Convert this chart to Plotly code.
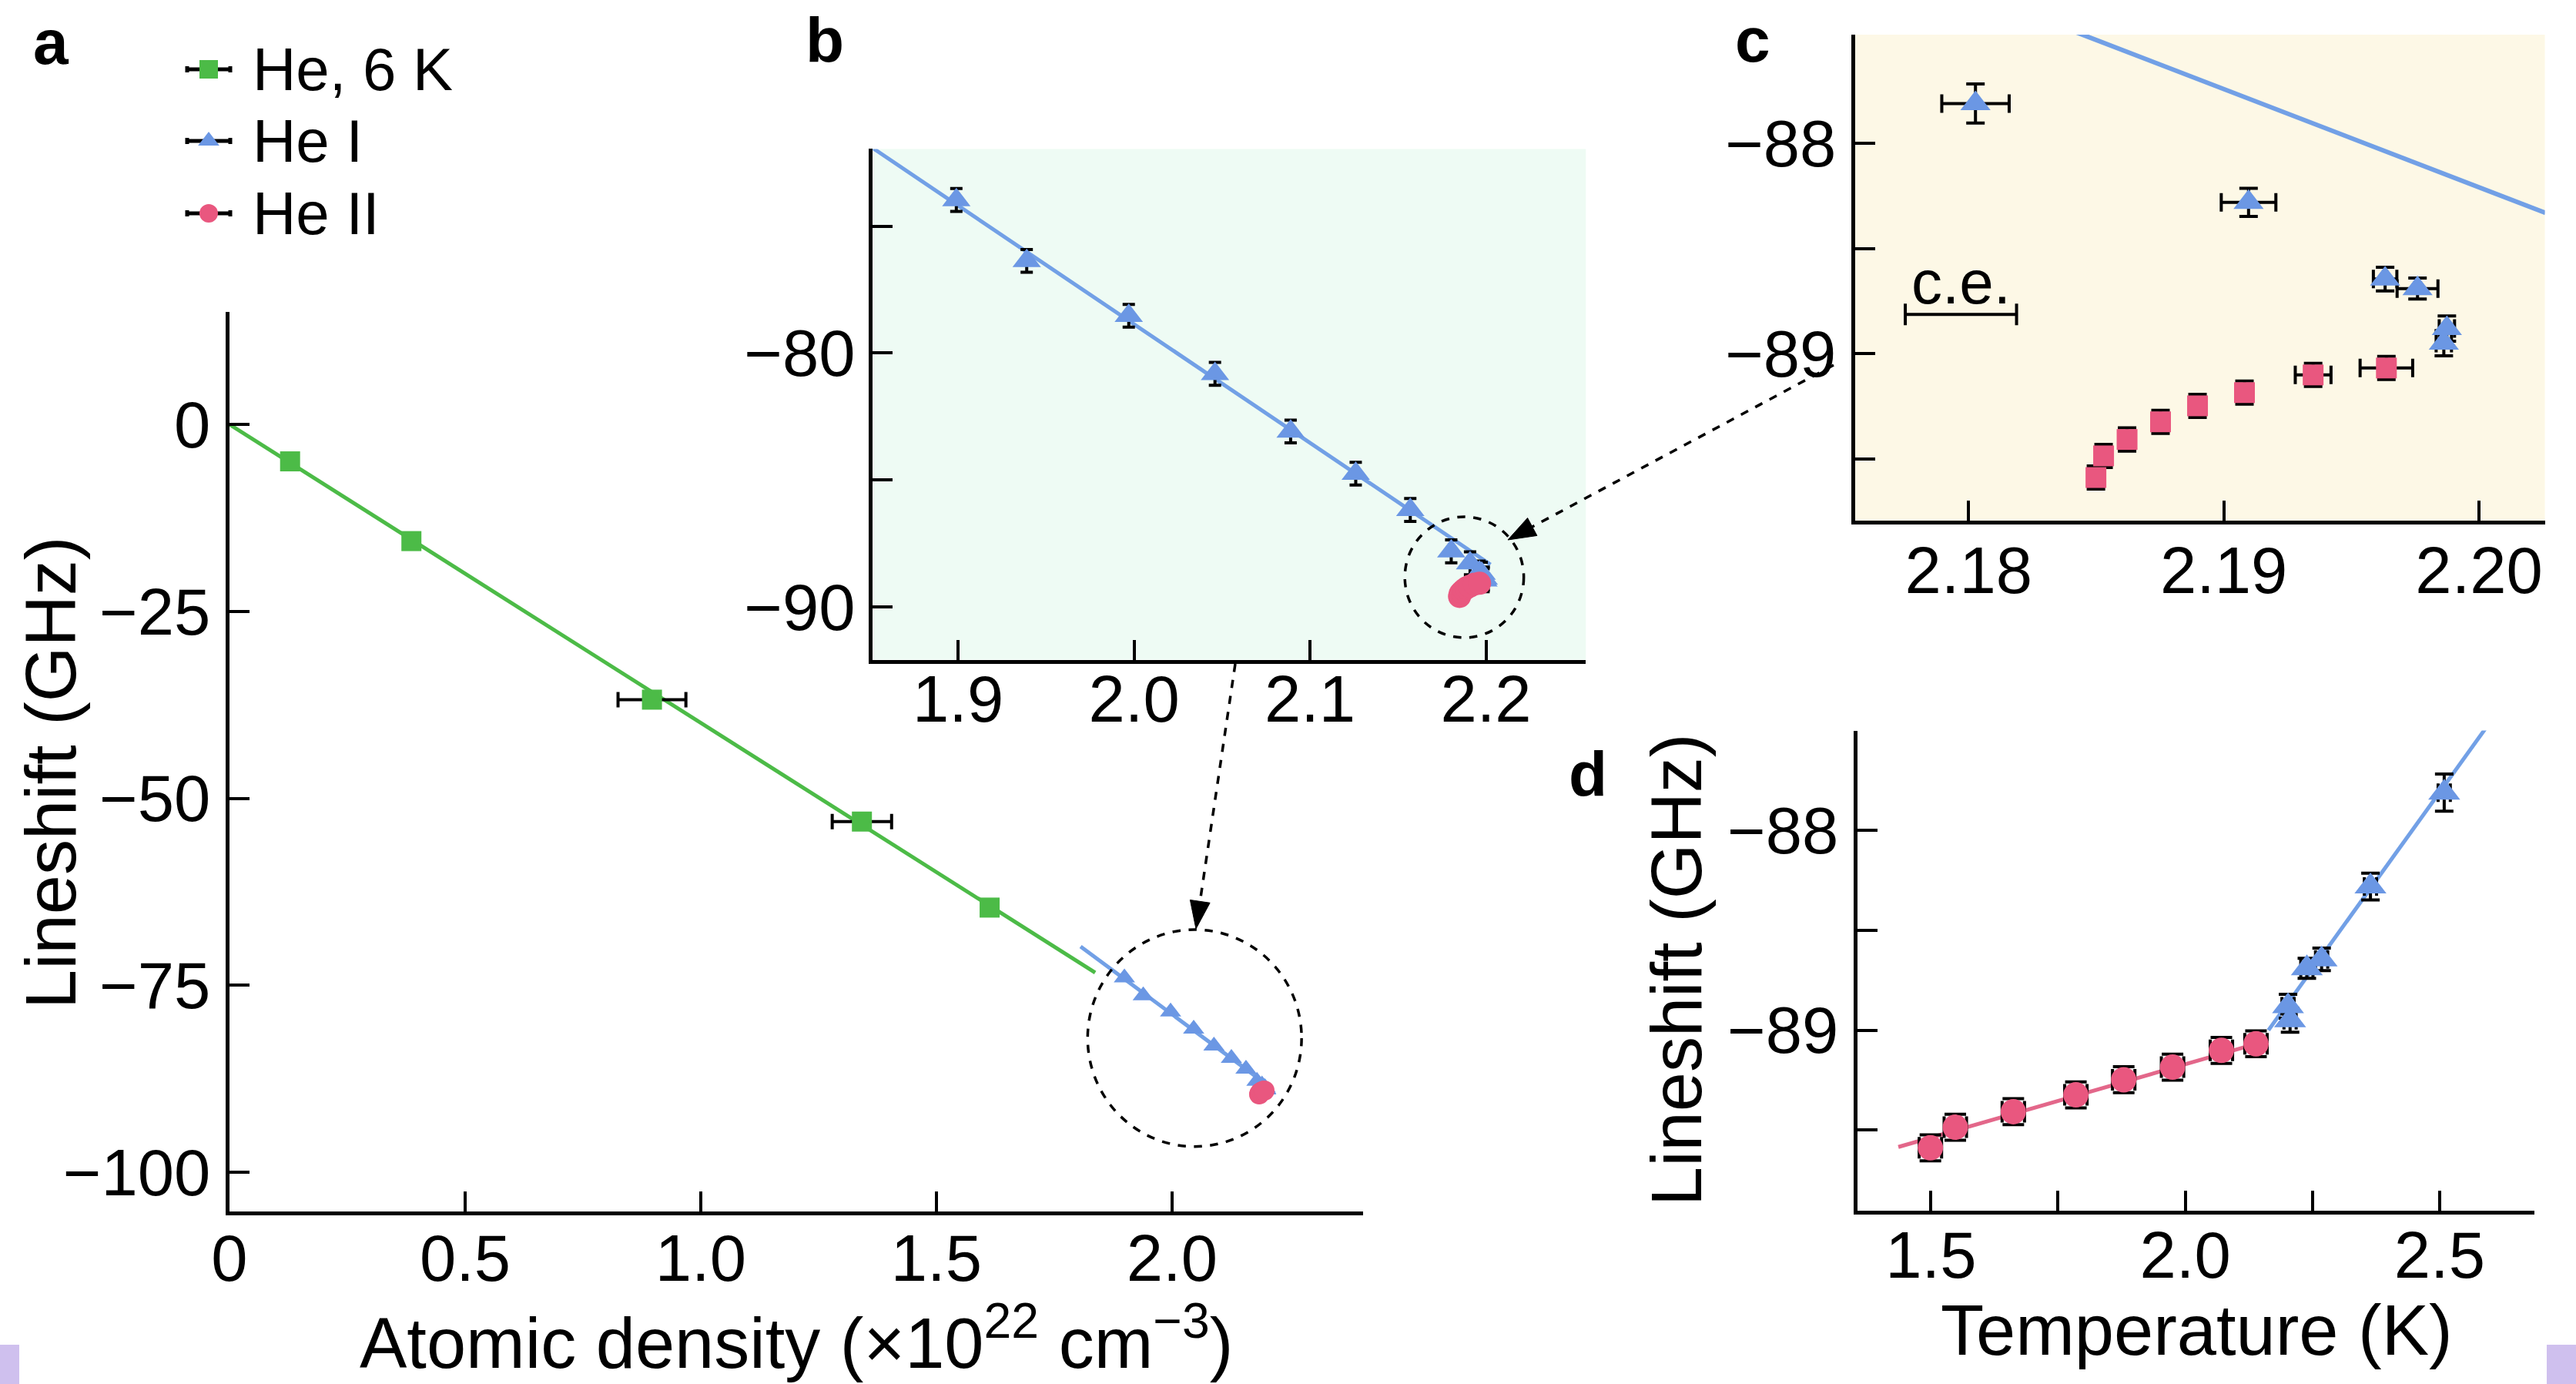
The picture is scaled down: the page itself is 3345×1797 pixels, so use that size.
import math
import plotly.graph_objects as go

W, H = 3345, 1797

# ---------------- data ----------------
# Panel a: He gas at 6 K
dens_6K = [0.1286, 0.386, 0.8965, 1.342, 1.613]
shift_6K = [-4.94, -15.6, -36.8, -53.1, -64.6]
dens_6K_err = [0.0, 0.0, 0.072, 0.063, 0.0]
fit_6K_dens = [0.0, 1.837]
fit_6K_shift = [0.0, -73.3]

# He I, lower densities (panels a, b)
dens_HeI_far = [1.899, 1.939, 1.997, 2.046, 2.089, 2.126, 2.157]
shift_HeI_far = [-73.97, -76.37, -78.53, -80.82, -83.09, -84.75, -86.18]
shift_HeI_far_err = [0.45, 0.45, 0.45, 0.45, 0.45, 0.45, 0.45]

# He I close to the lambda point (panels a-d)
dens_HeI = [2.18027, 2.19097, 2.19632, 2.19759, 2.19874, 2.19862]
dens_HeI_err = [0.00132, 0.00107, 0.00046, 0.0008, 0.0003, 0.0003]
shift_HeI = [-87.81, -88.28, -88.645, -88.69, -88.88, -88.95]
shift_HeI_err = [0.093, 0.067, 0.056, 0.05, 0.06, 0.06]
temp_HeI = [2.509, 2.364, 2.268, 2.239, 2.202, 2.206]
temp_HeI_err = [0.012, 0.012, 0.012, 0.012, 0.012, 0.012]

# He II (panels a-d)
dens_HeII = [2.18499, 2.18529, 2.18621, 2.18752, 2.18897, 2.19081, 2.19350, 2.19637]
dens_HeII_err = [0.0002, 0.0002, 0.0002, 0.0002, 0.0002, 0.0002, 0.0007, 0.00103]
shift_HeII = [-89.589, -89.486, -89.408, -89.324, -89.248, -89.185, -89.101, -89.068]
shift_HeII_err = [0.055, 0.055, 0.055, 0.055, 0.055, 0.055, 0.055, 0.055]
temp_HeII = [1.499, 1.548, 1.662, 1.785, 1.879, 1.975, 2.071, 2.139]
temp_HeII_err = [0.022, 0.022, 0.022, 0.022, 0.022, 0.022, 0.022, 0.022]

# fit lines
fit_HeI_dens = [1.806, 2.2026]
fit_HeI_shift = [-69.8, -88.33]
fit_HeII_temp = [1.436, 2.1575]
fit_HeII_shift_T = [-89.585, -89.055]
fit_HeI_temp = [2.1635, 2.5903]
fit_HeI_shift_T = [-89.0, -87.488]

# calibration-error bar (panel c)
ce_dens = [2.1797]
ce_shift = [-88.813]
ce_err = [0.00218]

# tick labels
a_xticks = [0, 0.5, 1.0, 1.5, 2.0]
a_xlabels = ["0", "0.5", "1.0", "1.5", "2.0"]
a_yticks = [0, -25, -50, -75, -100]
a_ylabels = ["0", "\u221225", "\u221250", "\u221275", "\u2212100"]
b_xticks = [1.9, 2.0, 2.1, 2.2]
b_xlabels = ["1.9", "2.0", "2.1", "2.2"]
b_yticks = [-75, -80, -85, -90]
b_ylabels = [" ", "\u221280", " ", "\u221290"]
c_xticks = [2.18, 2.19, 2.20]
c_xlabels = ["2.18", "2.19", "2.20"]
cd_yticks = [-88, -88.5, -89, -89.5]
cd_ylabels = ["\u221288", " ", "\u221289", " "]
d_xticks = [1.5, 1.75, 2.0, 2.25, 2.5]
d_xlabels = ["1.5", " ", "2.0", " ", "2.5"]

legend_names = ["He, 6 K", "He I", "He II"]

# ---------------- style ----------------
FONT = "Liberation Sans, Arial, Helvetica, sans-serif"
GREEN = "#4cbb47"
BLUE = "#6b97e4"
BLUE_LINE = "#72a0e6"
PINK = "#e9577f"
PINK_LINE = "#e3678a"
TICKFONT = 85
TITLEFONT = 92


def dx(p0, p1):
    return [p0 / W, p1 / W]


def dy(top, bottom):
    return [1 - bottom / H, 1 - top / H]


def px(x):
    return x / W


def py(y):
    return 1 - y / H


fig = go.Figure()

err_style = dict(type="data", color="black", thickness=4)

# ---- panel a ----
fig.add_trace(go.Scatter(x=fit_6K_dens, y=fit_6K_shift, mode="lines",
                         line=dict(color=GREEN, width=5), xaxis="x", yaxis="y", showlegend=False))
fig.add_trace(go.Scatter(x=fit_HeI_dens, y=fit_HeI_shift, mode="lines",
                         line=dict(color=BLUE_LINE, width=5), xaxis="x", yaxis="y", showlegend=False))
fig.add_trace(go.Scatter(x=dens_6K, y=shift_6K, mode="markers",
                         marker=dict(symbol="square", size=26, color=GREEN),
                         error_x=dict(array=dens_6K_err, width=10, **err_style),
                         xaxis="x", yaxis="y", showlegend=False))
fig.add_trace(go.Scatter(x=dens_HeI_far + dens_HeI, y=shift_HeI_far + shift_HeI, mode="markers",
                         marker=dict(symbol="triangle-up", size=24, color=BLUE),
                         xaxis="x", yaxis="y", showlegend=False))
fig.add_trace(go.Scatter(x=dens_HeII, y=shift_HeII, mode="markers",
                         marker=dict(symbol="circle", size=26, color=PINK),
                         xaxis="x", yaxis="y", showlegend=False))

# ---- panel b ----
fig.add_trace(go.Scatter(x=fit_HeI_dens, y=fit_HeI_shift, mode="lines",
                         line=dict(color=BLUE_LINE, width=5), xaxis="x2", yaxis="y2", showlegend=False))
fig.add_trace(go.Scatter(x=dens_HeI_far + dens_HeI, y=shift_HeI_far + shift_HeI, mode="markers",
                         marker=dict(symbol="triangle-up", size=32, color=BLUE),
                         error_y=dict(array=shift_HeI_far_err + [0.45] * len(shift_HeI), width=8, **err_style),
                         xaxis="x2", yaxis="y2", showlegend=False))
fig.add_trace(go.Scatter(x=dens_HeII, y=shift_HeII, mode="markers",
                         marker=dict(symbol="circle", size=30, color=PINK),
                         xaxis="x2", yaxis="y2", showlegend=False))

# ---- panel c ----
fig.add_trace(go.Scatter(x=fit_HeI_dens, y=fit_HeI_shift, mode="lines",
                         line=dict(color=BLUE_LINE, width=6), xaxis="x3", yaxis="y3", showlegend=False))
fig.add_trace(go.Scatter(x=dens_HeI, y=shift_HeI, mode="markers",
                         marker=dict(symbol="triangle-up", size=34, color=BLUE),
                         error_x=dict(array=dens_HeI_err, width=12, **err_style),
                         error_y=dict(array=shift_HeI_err, width=12, **err_style),
                         xaxis="x3", yaxis="y3", showlegend=False))
fig.add_trace(go.Scatter(x=dens_HeII, y=shift_HeII, mode="markers",
                         marker=dict(symbol="square", size=27, color=PINK),
                         error_x=dict(array=dens_HeII_err, width=12, **err_style),
                         error_y=dict(array=shift_HeII_err, width=12, **err_style),
                         xaxis="x3", yaxis="y3", showlegend=False))
fig.add_trace(go.Scatter(x=ce_dens, y=ce_shift, mode="markers",
                         marker=dict(size=1, color="rgba(0,0,0,0)"),
                         error_x=dict(array=ce_err, width=14, **err_style),
                         xaxis="x3", yaxis="y3", showlegend=False))

# ---- panel d ----
fig.add_trace(go.Scatter(x=fit_HeII_temp, y=fit_HeII_shift_T, mode="lines",
                         line=dict(color=PINK_LINE, width=5), xaxis="x4", yaxis="y4", showlegend=False))
fig.add_trace(go.Scatter(x=fit_HeI_temp, y=fit_HeI_shift_T, mode="lines",
                         line=dict(color=BLUE_LINE, width=5), xaxis="x4", yaxis="y4", showlegend=False))
fig.add_trace(go.Scatter(x=temp_HeII, y=shift_HeII, mode="markers",
                         marker=dict(symbol="circle", size=33, color=PINK),
                         error_x=dict(array=temp_HeII_err, width=14, **err_style),
                         error_y=dict(array=[0.065] * len(shift_HeII), width=14, **err_style),
                         xaxis="x4", yaxis="y4", showlegend=False))
fig.add_trace(go.Scatter(x=temp_HeI, y=shift_HeI, mode="markers",
                         marker=dict(symbol="triangle-up", size=36, color=BLUE),
                         error_x=dict(array=temp_HeI_err, width=12, **err_style),
                         error_y=dict(array=shift_HeI_err, width=12, **err_style),
                         xaxis="x4", yaxis="y4", showlegend=False))

# ---- legend (helper axis in pixel units) ----
leg_x = [271, 271, 271]
leg_y = [90, 183, 277]
leg_sym = ["square", "triangle-up", "circle"]
leg_col = [GREEN, BLUE, PINK]
for i in range(3):
    fig.add_trace(go.Scatter(x=[leg_x[i]], y=[leg_y[i]], mode="markers",
                             marker=dict(symbol=leg_sym[i], size=24, color=leg_col[i]),
                             error_x=dict(type="constant", value=28, color="black", thickness=5, width=4),
                             xaxis="x5", yaxis="y5", showlegend=False))

axis_common = dict(showline=True, linecolor="black", linewidth=4.5, ticks="inside",
                   ticklen=26, tickwidth=4, tickcolor="black", showgrid=False, zeroline=False,
                   tickfont=dict(family=FONT, size=TICKFONT, color="black"), tickmode="array",
                   mirror=False, fixedrange=True, automargin=False)

fig.update_layout(
    width=W, height=H, margin=dict(l=0, r=0, t=0, b=0, pad=0, autoexpand=False),
    paper_bgcolor="white", plot_bgcolor="rgba(0,0,0,0)",
    font=dict(family=FONT, color="black"),
    showlegend=False,
    xaxis=dict(domain=dx(298, 1769.7), range=[0, 2.405], anchor="y", ticklabelstandoff=-16,
               tickvals=a_xticks, ticktext=a_xlabels, **axis_common),
    yaxis=dict(domain=dy(405.4, 1572.7), range=[-105.2, 15.0], anchor="x", ticklabelstandoff=3,
               tickvals=a_yticks, ticktext=a_ylabels, **axis_common),
    xaxis2=dict(domain=dx(1133.3, 2059.3), range=[1.8515, 2.2568], anchor="y2", ticklabelstandoff=-26,
                tickvals=b_xticks, ticktext=b_xlabels, **axis_common),
    yaxis2=dict(domain=dy(193.4, 856.6), range=[-92.08, -71.96], anchor="x2", ticklabelstandoff=1,
                tickvals=b_yticks, ticktext=b_ylabels, **axis_common),
    xaxis3=dict(domain=dx(2409.1, 3304.6), range=[2.17556, 2.20258], anchor="y3", ticklabelstandoff=-13,
                tickvals=c_xticks, ticktext=c_xlabels, **axis_common),
    yaxis3=dict(domain=dy(44.9, 676), range=[-89.794, -87.482], anchor="x3", ticklabelstandoff=3,
                tickvals=cd_yticks, ticktext=cd_ylabels, **axis_common),
    xaxis4=dict(domain=dx(2412, 3291), range=[1.3557, 2.6863], anchor="y4", ticklabelstandoff=-20,
                tickvals=d_xticks, ticktext=d_xlabels, **axis_common),
    yaxis4=dict(domain=dy(948.6, 1572.2), range=[-89.905, -87.499], anchor="x4", ticklabelstandoff=3,
                tickvals=cd_yticks, ticktext=cd_ylabels, **axis_common),
    xaxis5=dict(domain=dx(0, 900), range=[0, 900], anchor="y5", visible=False, fixedrange=True,
                automargin=False),
    yaxis5=dict(domain=dy(0, 330), range=[330, 0], anchor="x5", visible=False, fixedrange=True,
                automargin=False),
)

shapes = []
# panel backgrounds
shapes.append(dict(type="rect", xref="x2 domain", yref="y2 domain", x0=0, x1=1, y0=0, y1=1,
                   fillcolor="#eefbf4", line=dict(width=0), layer="below"))
shapes.append(dict(type="rect", xref="x3 domain", yref="y3 domain", x0=0, x1=1, y0=0, y1=1,
                   fillcolor="#fdf8e6", line=dict(width=0), layer="below"))
# dashed circles
shapes.append(dict(type="circle", xref="x", yref="y", x0=1.821, x1=2.275, y0=-96.55, y1=-67.55,
                   line=dict(color="black", width=3.5, dash="dash")))
shapes.append(dict(type="circle", xref="x2", yref="y2", x0=2.1539, x1=2.2215, y0=-91.21, y1=-86.45,
                   line=dict(color="black", width=3.5, dash="dash")))


def add_arrow(tail, tip, L=36, hw=13):
    vx, vy = tip[0] - tail[0], tip[1] - tail[1]
    n = math.hypot(vx, vy)
    ux, uy = vx / n, vy / n
    bx, by = tip[0] - L * ux, tip[1] - L * uy
    qx, qy = -uy, ux
    shapes.append(dict(type="line", xref="paper", yref="paper",
                       x0=px(tail[0]), y0=py(tail[1]), x1=px(bx + 4 * ux), y1=py(by + 4 * uy),
                       line=dict(color="black", width=3.5, dash="dash")))
    path = "M {} {} L {} {} L {} {} Z".format(
        px(tip[0]), py(tip[1]), px(bx + hw * qx), py(by + hw * qy), px(bx - hw * qx), py(by - hw * qy))
    shapes.append(dict(type="path", xref="paper", yref="paper", path=path,
                       fillcolor="black", line=dict(color="black", width=1)))


add_arrow((1604, 862), (1553, 1206))
add_arrow((2381, 474), (1958, 701))

# purple corner squares
shapes.append(dict(type="rect", xref="paper", yref="paper", x0=0, x1=px(25), y0=0, y1=py(1746),
                   fillcolor="#cfc0ee", line=dict(width=0)))
shapes.append(dict(type="rect", xref="paper", yref="paper", x0=px(3307), x1=1, y0=0, y1=py(1746),
                   fillcolor="#cfc0ee", line=dict(width=0)))

fig.update_layout(shapes=shapes)

ann = []


def label(text, x, y, size, bold=False, angle=0):
    ann.append(dict(text=("<b>%s</b>" % text) if bold else text,
                    x=px(x), y=py(y), xref="paper", yref="paper", showarrow=False, textangle=angle,
                    xanchor="center", yanchor="middle",
                    font=dict(family=FONT, size=size, color="black")))


label("a", 66, 55, 82, bold=True)
label("b", 1071, 52, 82, bold=True)
label("c", 2276, 52, 82, bold=True)
label("d", 2062, 1004, 82, bold=True)

for i in range(3):
    ann.append(dict(text=legend_names[i], x=326, y=leg_y[i], xref="x5", yref="y5", showarrow=False,
                    xanchor="left", yanchor="middle", font=dict(family=FONT, size=78, color="black")))

label("Lineshift (GHz)", 66, 1003, TITLEFONT, angle=-90)
label("Lineshift (GHz)", 2177, 1259, TITLEFONT, angle=-90)
label("Atomic density (\u00d710<sup>22</sup> cm<sup>\u22123</sup>)", 1034, 1737, TITLEFONT)
label("Temperature (K)", 2852, 1727, TITLEFONT)

ann.append(dict(text="c.e.", x=2.1797, y=-88.66, xref="x3", yref="y3", showarrow=False,
                xanchor="center", yanchor="middle", font=dict(family=FONT, size=80, color="black")))

fig.update_layout(annotations=ann)

fig.write_html("out.html")
